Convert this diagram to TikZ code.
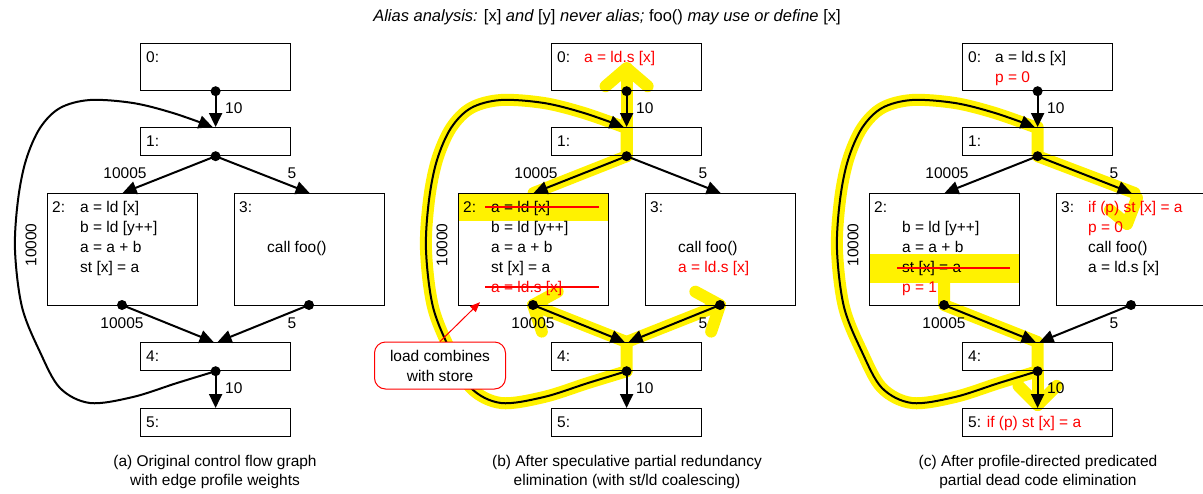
\documentclass[tikz,border=0pt]{standalone}
\usepackage{fontspec}
\setmainfont{Liberation Sans}
\usetikzlibrary{arrows.meta,backgrounds,calc}

% skeleton of one control flow graph: #1 name suffix, #2 horizontal offset
\newcommand\skel[2]{%
\begin{scope}[xshift=#2pt]
  \node[box, minimum height=47pt]  (b0#1) at (140,43)  {};
  \node[box, minimum height=28pt]  (b1#1) at (140,127) {};
  \node[box, minimum height=112pt] (b2#1) at (47,193)  {};
  \node[box, minimum height=112pt] (b3#1) at (234,193) {};
  \node[box, minimum height=28pt]  (b4#1) at (140,342) {};
  \node[box, minimum height=28pt]  (b5#1) at (140,408) {};
  \coordinate (d0#1) at (b0#1.south);
  \coordinate (d1#1) at (b1#1.south);
  \coordinate (d2#1) at (122,305);
  \coordinate (d3#1) at (309,305);
  \coordinate (d4#1) at (b4#1.south);
  \coordinate (l1#1) at ($(b1#1.north)+(-3,0)$);
  \node[txt] (n0#1) at (146,62.5)  {0:};
  \node[txt] (n1#1) at (146,146.5) {1:};
  \node[txt] (n2#1) at (52,212.5)  {2:};
  \node[txt] (n3#1) at (239,212.5) {3:};
  \node[txt] (n4#1) at (146,361.5) {4:};
  \draw[edge] (d0#1) -- (b1#1.north);
  \draw[edge] (d1#1) -- (b2#1.north);
  \draw[edge] (d1#1) -- (b3#1.north);
  \draw[edge] (d2#1) -- ($(b4#1.north)+(-2,0)$);
  \draw[edge] (d3#1) -- ($(b4#1.north)+(2,0)$);
  \draw[edge] (d4#1) -- (b5#1.north);
  \loopcurve{#1}{edge}{}
  \foreach \dd in {d0,d1,d2,d3,d4} \fill (\dd#1) circle (5pt);
  \node[wt, anchor=base west] (w01#1) at (225,113.5) {10};
  \node[wt, anchor=base] (w12#1) at (125,178.5) {10005};
  \node[wt, anchor=base] (w13#1) at (292,178.5) {5};
  \node[wt, anchor=base] (w24#1) at (122,328.5) {10005};
  \node[wt, anchor=base] (w34#1) at (292,328.5) {5};
  \node[wt, anchor=base west] (w45#1) at (225,393.5) {10};
  \node[wt, rotate=90] (w41#1) at (31,245) {10000};
\end{scope}}

% back edge from block 4 to block 1; #3 continues the path
\newcommand\loopcurve[3]{%
  \draw[#2] plot[smooth, tension=0.55] coordinates {(d4#1) (177,383) (133,397)
    (90,403) (60,388) (40,352) (22,307) (15,250) (18,200) (26,160) (40,128)
    (60,108) (90,100) (133,103) (173,113) (l1#1)} #3;}

\begin{document}
\begin{tikzpicture}[x=1pt, y=-1pt,
  font=\fontsize{15.5}{20}\selectfont,
  box/.style={draw, line width=1.2pt, minimum width=150pt, anchor=north west, inner sep=0pt},
  edge/.style={line width=2pt, -{Triangle[length=14pt, width=13pt]}},
  txt/.style={anchor=base west, inner sep=0pt},
  wt/.style={inner sep=0pt},
  hl/.style={yellow, line width=12pt, line cap=round, line join=round},
  strike/.style={red, line width=2pt},
  caption/.style={align=center, anchor=base, inner sep=0pt,
                  font=\fontsize{15.5}{19}\selectfont},
]
\useasboundingbox (0,0) rectangle (1203,493);

\node[anchor=base, inner sep=0pt, font=\fontsize{16.5}{20}\selectfont] (title) at (607,21.5)
  {\itshape Alias analysis: {\upshape [x]} and {\upshape [y]} never alias; {\upshape foo()} may use or define {\upshape [x]}};

% (a) original graph
\skel{a}{0}
\node[txt] (t2a1) at (80,212.5) {a = ld [x]};
\node[txt] (t2a2) at (80,232.5) {b = ld [y++]};
\node[txt] (t2a3) at (80,252.5) {a = a + b};
\node[txt] (t2a4) at (80,272.5) {st [x] = a};
\node[txt] (t3a1) at (267,252.5) {call foo()};
\node[txt] (n5a) at (146,427.5) {5:};
\node[caption] (capa) at (215,485.5) {(a) Original control flow graph\\with edge profile weights};

% (b) after speculative PRE
\skel{b}{411}
\begin{scope}[xshift=411pt]
  \node[txt, red] (t0b1) at (173,62.5) {a = ld.s [x]};
  \node[txt] (t2b1) at (80,212.5) {a = ld [x]};
  \node[txt] (t2b2) at (80,232.5) {b = ld [y++]};
  \node[txt] (t2b3) at (80,252.5) {a = a + b};
  \node[txt] (t2b4) at (80,272.5) {st [x] = a};
  \node[txt, red] (t2b5) at (80,292.5) {a = ld.s [x]};
  \node[txt] (t3b1) at (267,252.5) {call foo()};
  \node[txt, red] (t3b2) at (267,272.5) {a = ld.s [x]};
  \node[txt] (n5b) at (146,427.5) {5:};
  \draw[strike] (74,207) -- (188,207);
  \draw[strike] (74,287) -- (188,287);
  \node[draw=red, fill=white, line width=1pt, rounded corners=11pt, minimum width=131pt,
        minimum height=47pt, align=center, inner sep=0pt] (note) at (29,365.5)
        {load combines\\with store};
  \coordinate (ldtgt) at ($(b2b.south west)+(22,-4)$);
  \draw[red, line width=1pt, -{Triangle[length=10pt, width=8pt]}] (note.north) -- (ldtgt);
  \node[caption] (capb) at (216,485.5) {(b) After speculative partial redundancy\\elimination (with st/ld coalescing)};
\end{scope}

% (c) after predicated partial dead code elimination
\skel{c}{822}
\begin{scope}[xshift=822pt]
  \node[txt] (t0c1) at (173,62.5) {a = ld.s [x]};
  \node[txt, red] (t0c2) at (173,82.5) {p = 0};
  \node[txt] (t2c2) at (80,232.5) {b = ld [y++]};
  \node[txt] (t2c3) at (80,252.5) {a = a + b};
  \node[txt] (t2c4) at (80,272.5) {st [x] = a};
  \node[txt, red] (t2c5) at (80,292.5) {p = 1};
  \draw[strike] (75,268) -- (188,268);
  \node[txt, red] (t3c1) at (266,212.5) {if (p) st [x] = a};
  \node[txt, red] (t3c2) at (266,232.5) {p = 0};
  \node[txt] (t3c3) at (266,252.5) {call foo()};
  \node[txt] (t3c4) at (266,272.5) {a = ld.s [x]};
  \node[txt] (n5c) at (146,427.5) {5: \textcolor{red}{if (p) st [x] = a}};
  \node[caption] (capc) at (216,485.5) {(c) After profile-directed predicated\\partial dead code elimination};
\end{scope}

% highlighted paths
\begin{pgfonlayer}{background}
  \begin{scope}[xshift=411pt]
    \fill[yellow] (b2b.north west) rectangle ($(b2b.north east)+(0,28)$);
    \loopcurve{b}{hl}{-- (b1b.north) -- (d1b) -- (b2b.north)}
    \coordinate (tipb) at ($(b0b.south)+(0,-23)$);
    \draw[hl] (d1b) -- (tipb);
    \draw[hl] ($(tipb)+(-21,18)$) -- (tipb) -- ($(tipb)+(21,18)$);
    \draw[hl] (d4b) -- (b4b.north) -- (d2b);
    \draw[hl] (b4b.north) -- (d3b);
    \draw[hl] ($(d2b)!28pt!50:(b4b.north)$) -- (d2b) -- ($(d2b)!28pt!-50:(b4b.north)$);
    \draw[hl] ($(d3b)!28pt!50:(b4b.north)$) -- (d3b) -- ($(d3b)!28pt!-50:(b4b.north)$);
  \end{scope}
  \begin{scope}[xshift=822pt]
    \fill[yellow] ($(b2c.north west)+(0,61)$) rectangle ($(b2c.north east)+(0,90)$);
    \loopcurve{c}{hl}{-- (b1c.north) -- (d1c) -- ($(b3c.north)+(3,0)$)}
    \draw[hl] (288,210) -- (305,224) -- (315,198);
    \draw[hl] (122,275) -- (d2c) -- (b4c.north) -- (d4c);
    \coordinate (tipc) at ($(b5c.north)+(0,-3)$);
    \draw[hl] (d4c) -- (tipc);
    \draw[hl] ($(tipc)!27pt!45:(d4c)$) -- (tipc) -- ($(tipc)!27pt!-45:(d4c)$);
  \end{scope}
\end{pgfonlayer}
\end{tikzpicture}
\end{document}
